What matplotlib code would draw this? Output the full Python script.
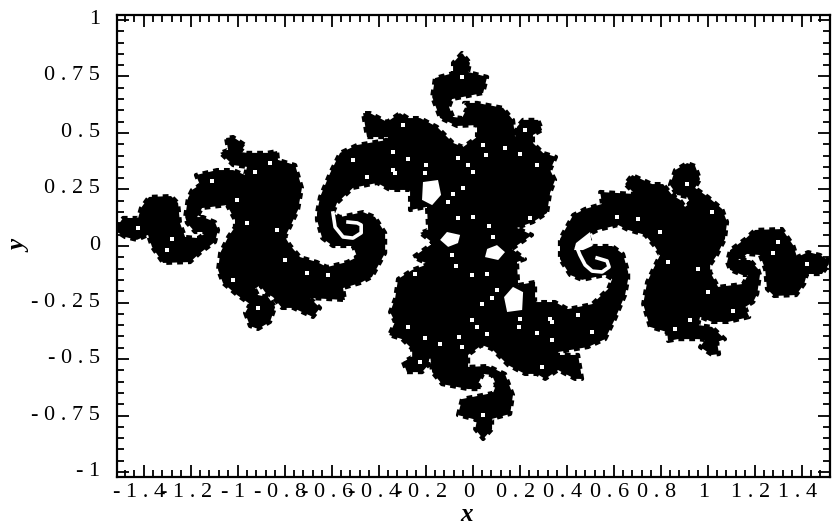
import matplotlib
matplotlib.use("Agg")
import matplotlib.pyplot as plt
from matplotlib.ticker import MultipleLocator
from matplotlib.transforms import ScaledTranslation

# tick values and labels
x_ticks = [-1.4, -1.2, -1.0, -0.8, -0.6, -0.4, -0.2, 0, 0.2, 0.4, 0.6, 0.8, 1.0, 1.2, 1.4]
x_tick_labels = ["-1.4", "-1.2", "-1", "-0.8", "-0.6", "-0.4", "-0.2", "0", "0.2", "0.4", "0.6", "0.8", "1", "1.2", "1.4"]
y_ticks = [-1.0, -0.75, -0.5, -0.25, 0, 0.25, 0.5, 0.75, 1.0]
y_tick_labels = ["-1", "-0.75", "-0.5", "-0.25", "0", "0.25", "0.5", "0.75", "1"]

# outline of the set: left tip over the top to the right tip
upper_x = [-1.517, -1.487, -1.423, -1.411, -1.377, -1.283, -1.253, -1.245, -1.223, -1.168, -1.130, -1.181, -1.215, -1.223, -1.211, -1.194, -1.160, -1.177, -1.087, -1.019, -0.968, -0.960, -1.019, -1.074, -1.040, -1.049, -1.019, -0.968, -0.989, -0.960, -0.874, -0.832, -0.828, -0.755, -0.726, -0.743, -0.777, -0.798, -0.777, -0.734, -0.662, -0.619, -0.534, -0.491, -0.509, -0.594, -0.640, -0.662, -0.662, -0.649, -0.606, -0.564, -0.491, -0.364, -0.360, -0.449, -0.466, -0.436, -0.364, -0.309, -0.274, -0.223, -0.151, -0.083, -0.040, 0.019, 0.019, -0.066, -0.138, -0.172, -0.160, -0.083, -0.083, -0.045, -0.011, -0.019, 0.062, 0.045, -0.087, -0.100, -0.083, -0.045, -0.023, -0.036, 0.019, 0.130, 0.172, 0.181, 0.189, 0.215, 0.279, 0.296, 0.257, 0.257, 0.300, 0.355, 0.330, 0.351, 0.330, 0.317, 0.257, 0.189,
           0.253, 0.168, 0.223, 0.189, 0.194, 0.266, 0.266, 0.351, 0.406, 0.509, 0.577, 0.594, 0.564, 0.466, 0.415, 0.372, 0.372, 0.428, 0.479, 0.551, 0.543, 0.691, 0.649, 0.679, 0.764, 0.811, 0.849, 0.883, 0.904, 0.926, 0.913, 0.870, 0.840, 0.862, 0.913, 0.947, 0.968, 0.947, 1.002, 1.062, 1.083, 1.074, 1.040, 1.011, 1.011, 1.045, 1.151, 1.172, 1.147, 1.096, 1.083, 1.096, 1.160, 1.202, 1.317, 1.364, 1.381, 1.428, 1.479, 1.513, 1.517]
upper_y = [0.080, 0.124, 0.124, 0.168, 0.217, 0.221, 0.190, 0.102, 0.040, 0.035, 0.062, 0.062, 0.102, 0.128, 0.212, 0.248, 0.270, 0.314, 0.336, 0.336, 0.314, 0.350, 0.358, 0.412, 0.425, 0.478, 0.482, 0.447, 0.416, 0.412, 0.412, 0.420, 0.381, 0.358, 0.257, 0.159, 0.084, 0.040, 0.004, -0.049, -0.071, -0.093, -0.071, -0.049, 0, 0, 0.035, 0.115, 0.146, 0.217, 0.323, 0.412, 0.447, 0.469, 0.482, 0.482, 0.588, 0.588, 0.549, 0.588, 0.566, 0.566, 0.527, 0.456, 0.438, 0.482, 0.535, 0.531, 0.566, 0.659, 0.743, 0.765, 0.810, 0.854, 0.810, 0.770, 0.748, 0.677, 0.650, 0.615, 0.571, 0.566, 0.611, 0.633, 0.633, 0.611, 0.558, 0.482, 0.527, 0.558, 0.558, 0.513, 0.491, 0.456, 0.412, 0.394, 0.336, 0.292, 0.235, 0.146, 0.106, 0.080,
           0.049, -0.013, -0.058, -0.071, -0.173, -0.159, -0.248, -0.248, -0.279, -0.257, -0.190, -0.146, -0.128, -0.150, -0.128, -0.058, 0.031, 0.137, 0.164, 0.186, 0.239, 0.230, 0.274, 0.314, 0.274, 0.274, 0.226, 0.204, 0.173, 0.190, 0.217, 0.226, 0.270, 0.336, 0.367, 0.354, 0.296, 0.257, 0.217, 0.164, 0.106, 0.031, -0.040, -0.084, -0.115, -0.181, -0.168, -0.128, -0.128, -0.106, -0.071, -0.018, 0.031, 0.071, 0.075, 0.004, -0.049, -0.027, -0.040, -0.062, -0.080]

# right tip under the bottom back to the left tip
lower_x = [1.517, 1.487, 1.423, 1.411, 1.377, 1.283, 1.253, 1.245, 1.223, 1.168, 1.130, 1.181, 1.215, 1.223, 1.211, 1.194, 1.160, 1.177, 1.087, 1.019, 0.968, 0.960, 1.019, 1.074, 1.040, 1.049, 1.019, 0.968, 0.989, 0.960, 0.874, 0.832, 0.828, 0.755, 0.726, 0.743, 0.777, 0.798, 0.777, 0.734, 0.662, 0.619, 0.534, 0.491, 0.509, 0.594, 0.640, 0.662, 0.662, 0.649, 0.606, 0.564, 0.491, 0.364, 0.360, 0.449, 0.466, 0.436, 0.364, 0.309, 0.274, 0.223, 0.151, 0.083, 0.040, -0.019, -0.019, 0.066, 0.138, 0.172, 0.160, 0.083, 0.083, 0.045, 0.011, 0.019, -0.062, -0.045, 0.087, 0.100, 0.083, 0.045, 0.023, 0.036, -0.019, -0.130, -0.172, -0.181, -0.189, -0.215, -0.279, -0.296, -0.257, -0.257, -0.300, -0.355, -0.330, -0.351, -0.330, -0.317, -0.257, -0.189,
           -0.253, -0.168, -0.223, -0.189, -0.194, -0.266, -0.266, -0.351, -0.406, -0.509, -0.577, -0.594, -0.564, -0.466, -0.415, -0.372, -0.372, -0.428, -0.479, -0.551, -0.543, -0.691, -0.649, -0.679, -0.764, -0.811, -0.849, -0.883, -0.904, -0.926, -0.913, -0.870, -0.840, -0.862, -0.913, -0.947, -0.968, -0.947, -1.002, -1.062, -1.083, -1.074, -1.040, -1.011, -1.011, -1.045, -1.151, -1.172, -1.147, -1.096, -1.083, -1.096, -1.160, -1.202, -1.317, -1.364, -1.381, -1.428, -1.479, -1.513, -1.517]
lower_y = [-0.080, -0.124, -0.124, -0.168, -0.217, -0.221, -0.190, -0.102, -0.040, -0.035, -0.062, -0.062, -0.102, -0.128, -0.212, -0.248, -0.270, -0.314, -0.336, -0.336, -0.314, -0.350, -0.358, -0.412, -0.425, -0.478, -0.482, -0.447, -0.416, -0.412, -0.412, -0.420, -0.381, -0.358, -0.257, -0.159, -0.084, -0.040, -0.004, 0.049, 0.071, 0.093, 0.071, 0.049, 0, 0, -0.035, -0.115, -0.146, -0.217, -0.323, -0.412, -0.447, -0.469, -0.482, -0.482, -0.588, -0.588, -0.549, -0.588, -0.566, -0.566, -0.527, -0.456, -0.438, -0.482, -0.535, -0.531, -0.566, -0.659, -0.743, -0.765, -0.810, -0.854, -0.810, -0.770, -0.748, -0.677, -0.650, -0.615, -0.571, -0.566, -0.611, -0.633, -0.633, -0.611, -0.558, -0.482, -0.527, -0.558, -0.558, -0.513, -0.491, -0.456, -0.412, -0.394, -0.336, -0.292, -0.235, -0.146, -0.106, -0.080,
           -0.049, 0.013, 0.058, 0.071, 0.173, 0.159, 0.248, 0.248, 0.279, 0.257, 0.190, 0.146, 0.128, 0.150, 0.128, 0.058, -0.031, -0.137, -0.164, -0.186, -0.239, -0.230, -0.274, -0.314, -0.274, -0.274, -0.226, -0.204, -0.173, -0.190, -0.217, -0.226, -0.270, -0.336, -0.367, -0.354, -0.296, -0.257, -0.217, -0.164, -0.106, -0.031, 0.040, 0.084, 0.115, 0.181, 0.168, 0.128, 0.128, 0.106, 0.071, 0.018, -0.031, -0.071, -0.075, -0.004, 0.049, 0.027, 0.040, 0.062, 0.080]

# white curls inside the two big spirals
curl_left_x = [-0.594, -0.585, -0.551, -0.509, -0.474, -0.474, -0.491, -0.530]
curl_left_y = [0.146, 0.084, 0.040, 0.035, 0.058, 0.093, 0.102, 0.106]
curl_right_x = [0.445, 0.457, 0.479, 0.509, 0.551, 0.581, 0.572, 0.530]
curl_right_y = [-0.009, -0.040, -0.084, -0.111, -0.115, -0.093, -0.066, -0.053]

# larger white gaps
gaps = [
    ([-0.211, -0.147, -0.134, -0.172, -0.215], [0.283, 0.292, 0.226, 0.181, 0.204]),
    ([0.211, 0.147, 0.134, 0.172, 0.215], [-0.283, -0.292, -0.226, -0.181, -0.204]),
    ([-0.109, -0.053, -0.062, -0.104, -0.138], [0.062, 0.049, 0.013, -0.004, 0.027]),
    ([0.109, 0.053, 0.062, 0.104, 0.138], [-0.062, -0.049, -0.013, 0.004, -0.027]),
    ([0.500, 0.440, 0.432, 0.470, 0.509], [0.062, 0.013, -0.018, -0.018, 0]),
]

# small white specks
speck_x = [-1.002, -0.960, -0.832, -0.798, -0.704, -0.615, -1.109, -0.926, -0.862, -1.019, -1.300, -1.279, -1.423, -0.509, -0.449, -0.338, -0.338, -0.330, -0.274, -0.198, -0.202, -0.062, -0.019, 0.002, 0.045, 0.138, 0.057, 0.202, 0.274, -0.040, -0.083, -0.104, -0.062, 0.002, 0.070, 0.087, 0.245, -0.296, 0.223, -0.045, -0.913,
           1.002, 0.960, 0.832, 0.798, 0.704, 0.615, 1.109, 0.926, 0.862, 1.019, 1.300, 1.279, 1.423, 0.509, 0.449, 0.338, 0.338, 0.330, 0.274, 0.198, 0.202, 0.062, 0.019, -0.002, -0.045, -0.138, -0.057, -0.202, -0.274, 0.040, 0.083, 0.104, 0.062, -0.002, -0.070, -0.087, -0.245, 0.296, -0.223, 0.045, 0.913]
speck_y = [0.204, 0.102, 0.071, -0.062, -0.119, -0.128, 0.288, 0.327, 0.367, -0.150, -0.018, 0.031, 0.080, 0.381, 0.305, 0.416, 0.336, 0.323, 0.385, 0.358, 0.323, 0.389, 0.358, 0.327, 0.447, 0.434, 0.403, 0.407, 0.358, 0.257, 0.230, 0.195, 0.124, 0.128, 0.088, 0.040, 0.124, 0.535, 0.513, 0.748, -0.274,
           -0.204, -0.102, -0.071, 0.062, 0.119, 0.128, -0.288, -0.327, -0.367, 0.150, 0.018, -0.031, -0.080, -0.381, -0.305, -0.416, -0.336, -0.323, -0.385, -0.358, -0.323, -0.389, -0.358, -0.327, -0.447, -0.434, -0.403, -0.407, -0.358, -0.257, -0.230, -0.195, -0.124, -0.128, -0.088, -0.040, -0.124, -0.535, -0.513, -0.748, 0.274]

plt.rcParams['font.family'] = ['Liberation Serif', 'DejaVu Serif']

fig = plt.figure(figsize=(8.33, 5.27), dpi=100)
ax = fig.add_axes([117 / 833, 1 - 477 / 527, 713 / 833, 462 / 527])

# the set: fill plus a dashed stroke so the edge comes out stepped
outline_x = upper_x + lower_x
outline_y = upper_y + lower_y
ax.fill(outline_x, outline_y, color='black', lw=0, zorder=2)
ax.plot(outline_x + outline_x[:1], outline_y + outline_y[:1], color='black', lw=3,
        linestyle=(0, (1.4, 1.2)), dash_capstyle='butt', zorder=2)

for gap_x, gap_y in gaps:
    ax.fill(gap_x, gap_y, color='white', lw=0, zorder=3)
ax.plot(curl_left_x, curl_left_y, color='white', lw=2.6, zorder=3)
ax.plot(curl_right_x, curl_right_y, color='white', lw=2.6, zorder=3)
ax.scatter(speck_x, speck_y, s=9, marker='s', color='white', linewidths=0, zorder=3)

ax.set_xlim(-1.513, 1.521)
ax.set_ylim(-1.022, 1.022)

# labels in the picture are widely letterspaced
ax.set_xticks(x_ticks, labels=[" ".join(t) for t in x_tick_labels])
ax.set_yticks(y_ticks, labels=[" ".join(t) for t in y_tick_labels])
ax.xaxis.set_minor_locator(MultipleLocator(0.04))
ax.yaxis.set_minor_locator(MultipleLocator(0.05))
ax.tick_params(which='major', direction='in', top=True, right=True, length=8.5, width=1.3,
               labelsize=16, pad=4)
ax.tick_params(which='minor', direction='in', top=True, right=True, length=5, width=1.3)
ax.tick_params(axis='y', pad=12)
for spine in ax.spines.values():
    spine.set_linewidth(1.6)

x_shift = ScaledTranslation(-4 / 100, 0, fig.dpi_scale_trans)
for label in ax.get_xticklabels():
    label.set_transform(label.get_transform() + x_shift)
y_shift = ScaledTranslation(0, 3 / 100, fig.dpi_scale_trans)
for label in ax.get_yticklabels():
    label.set_transform(label.get_transform() + y_shift)

ax.set_xlabel('x', fontsize=18, style='italic', fontweight='bold', labelpad=1, x=0.49)
ax.set_ylabel('y', fontsize=18, style='italic', fontweight='bold', labelpad=0)

fig.savefig('out.png', dpi=100)
